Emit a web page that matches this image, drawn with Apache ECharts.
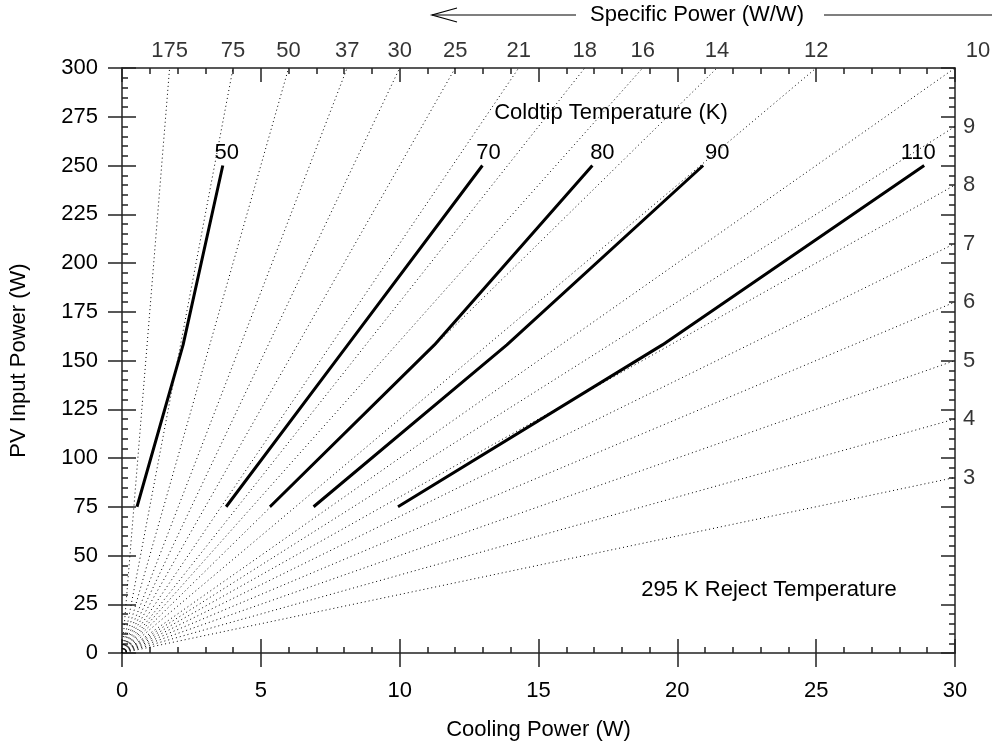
<!DOCTYPE html>
<html>
<head>
<meta charset="utf-8">
<script src="https://cdn.jsdelivr.net/npm/echarts@6/dist/echarts.min.js"></script>
<style>
html,body{margin:0;padding:0;background:#fff;}
#chart{width:992px;height:752px;}
</style>
</head>
<body>
<div id="chart"></div>
<script>
// ---- data ----
const xMin = 0, xMax = 30, yMin = 0, yMax = 300;
const specificPowers = [175, 75, 50, 37, 30, 25, 21, 18, 16, 14, 12, 10, 9, 8, 7, 6, 5, 4, 3];
const coldtipTemps = ['50', '70', '80', '90', '110'];
const pvInput = [75, 158, 250];
const cooling50 = [0.54, 2.20, 3.63];
const cooling70 = [3.75, 8.13, 12.98];
const cooling80 = [5.33, 11.25, 16.94];
const cooling90 = [6.90, 13.86, 20.93];
const cooling110 = [9.94, 19.46, 28.89];
const coolingSets = [cooling50, cooling70, cooling80, cooling90, cooling110];

// ---- build ----
const FONT = 'Liberation Sans, Arial, sans-serif';
const FS = 22;
const AX = '#222';

const series = [];
// radial specific-power lines from origin
specificPowers.forEach(sp => {
  const end = (yMax / sp <= xMax) ? [yMax / sp, yMax] : [xMax, xMax * sp];
  series.push({
    type: 'line', xAxisIndex: 0, yAxisIndex: 0, symbol: 'none', silent: true,
    lineStyle: {color: '#000', width: 1, type: [1, 3]},
    data: [[0, 0], end], z: 1
  });
});
// specific power labels
const topLabels = specificPowers.filter(sp => sp > 10).map(sp => [yMax / sp, yMax, sp]);
const cornerLabels = specificPowers.filter(sp => sp === 10).map(sp => [xMax, yMax, sp]);
const rightLabels = specificPowers.filter(sp => sp < 10).map(sp => [xMax, xMax * sp, sp]);
const labelBase = {fontFamily: FONT, fontSize: FS, color: '#000', formatter: p => String(p.value[2])};
series.push({type: 'scatter', symbolSize: 0, silent: true, data: topLabels,
  label: Object.assign({show: true, position: 'top', distance: 6}, labelBase)});
series.push({type: 'scatter', symbolSize: 0, silent: true, data: cornerLabels,
  label: Object.assign({show: true, position: 'top', distance: 6, offset: [23, 0]}, labelBase)});
series.push({type: 'scatter', symbolSize: 0, silent: true, data: rightLabels,
  label: Object.assign({show: true, position: 'right', distance: 8}, labelBase)});

// coldtip temperature curves
const tempLabelOffsets = [4, 6, 10, 14, -6];
coldtipTemps.forEach((t, i) => {
  const pts = coolingSets[i].map((x, j) => [x, pvInput[j]]);
  series.push({
    type: 'line', name: t + ' K', symbol: 'none', z: 5,
    lineStyle: {color: '#000', width: 3},
    data: pts,
    markPoint: {
      symbol: 'circle', symbolSize: 0, silent: true,
      data: [{coord: pts[pts.length - 1], value: t}],
      label: {show: true, position: 'top', distance: 2, offset: [tempLabelOffsets[i], 0],
        formatter: t, fontFamily: FONT, fontSize: FS, color: '#000'}
    }
  });
});

const tickStyle = {color: AX, width: 1.5};
const option = {
  animation: false,
  backgroundColor: '#fff',
  grid: {left: 115, right: 37, top: 68, bottom: 99, containLabel: false},
  xAxis: [
    {type: 'value', position: 'bottom', min: xMin, max: xMax, interval: 5,
     name: 'Cooling Power (W)', nameLocation: 'middle', nameGap: 66,
     nameTextStyle: {fontFamily: FONT, fontSize: FS, color: '#000'},
     axisLine: {show: true, onZero: false, lineStyle: tickStyle},
     axisTick: {show: true, inside: true, length: 14, lineStyle: tickStyle},
     minorTick: {show: true, splitNumber: 5, length: 6, lineStyle: tickStyle},
     axisLabel: {margin: 27, fontFamily: FONT, fontSize: FS, color: '#000'},
     splitLine: {show: false}},
    {type: 'value', position: 'bottom', min: xMin, max: xMax, interval: 5,
     axisLine: {show: false, onZero: false},
     axisTick: {show: true, inside: false, length: 14, lineStyle: tickStyle},
     axisLabel: {show: false}, splitLine: {show: false}},
    {type: 'value', position: 'top', min: xMin, max: xMax, interval: 5,
     axisLine: {show: true, onZero: false, lineStyle: tickStyle},
     axisTick: {show: true, inside: true, length: 14, lineStyle: tickStyle},
     minorTick: {show: true, splitNumber: 5, length: 6, lineStyle: tickStyle},
     axisLabel: {show: false}, splitLine: {show: false}}
  ],
  yAxis: [
    {type: 'value', position: 'left', min: yMin, max: yMax, interval: 25,
     name: 'PV Input Power (W)', nameLocation: 'middle', nameGap: 92,
     nameTextStyle: {fontFamily: FONT, fontSize: FS, color: '#000'},
     axisLine: {show: true, onZero: false, lineStyle: tickStyle},
     axisTick: {show: true, inside: true, length: 14, lineStyle: tickStyle},
     minorTick: {show: true, splitNumber: 5, length: 6, lineStyle: tickStyle},
     axisLabel: {margin: 24, fontFamily: FONT, fontSize: FS, color: '#000'},
     splitLine: {show: false}},
    {type: 'value', position: 'left', min: yMin, max: yMax, interval: 25,
     axisLine: {show: false, onZero: false},
     axisTick: {show: true, inside: false, length: 14, lineStyle: tickStyle},
     axisLabel: {show: false}, splitLine: {show: false}},
    {type: 'value', position: 'right', min: yMin, max: yMax, interval: 25,
     axisLine: {show: true, onZero: false, lineStyle: tickStyle},
     axisTick: {show: true, inside: true, length: 14, lineStyle: tickStyle},
     minorTick: {show: true, splitNumber: 5, length: 6, lineStyle: tickStyle},
     axisLabel: {show: false}, splitLine: {show: false}}
  ],
  graphic: [
    {type: 'text', style: {text: 'Specific Power (W/W)', font: FS + 'px ' + FONT, fill: '#000', x: 697, y: 15, textAlign: 'center', textVerticalAlign: 'middle'}},
    {type: 'line', shape: {x1: 432, y1: 15, x2: 576, y2: 15}, style: {stroke: '#000', lineWidth: 1.2}},
    {type: 'polyline', shape: {points: [[457, 8], [432, 15], [457, 22]]}, style: {stroke: '#000', lineWidth: 1.2, fill: null}},
    {type: 'line', shape: {x1: 824, y1: 15, x2: 992, y2: 15}, style: {stroke: '#000', lineWidth: 1.2}},
    {type: 'text', style: {text: 'Coldtip Temperature (K)', font: FS + 'px ' + FONT, fill: '#000', x: 611, y: 113, textAlign: 'center', textVerticalAlign: 'middle'}},
    {type: 'text', style: {text: '295 K Reject Temperature', font: FS + 'px ' + FONT, fill: '#000', x: 769, y: 590, textAlign: 'center', textVerticalAlign: 'middle'}}
  ],
  series: series
};

const chart = echarts.init(document.getElementById('chart'), null, {renderer: 'canvas'});
chart.setOption(option);
</script>
</body>
</html>
